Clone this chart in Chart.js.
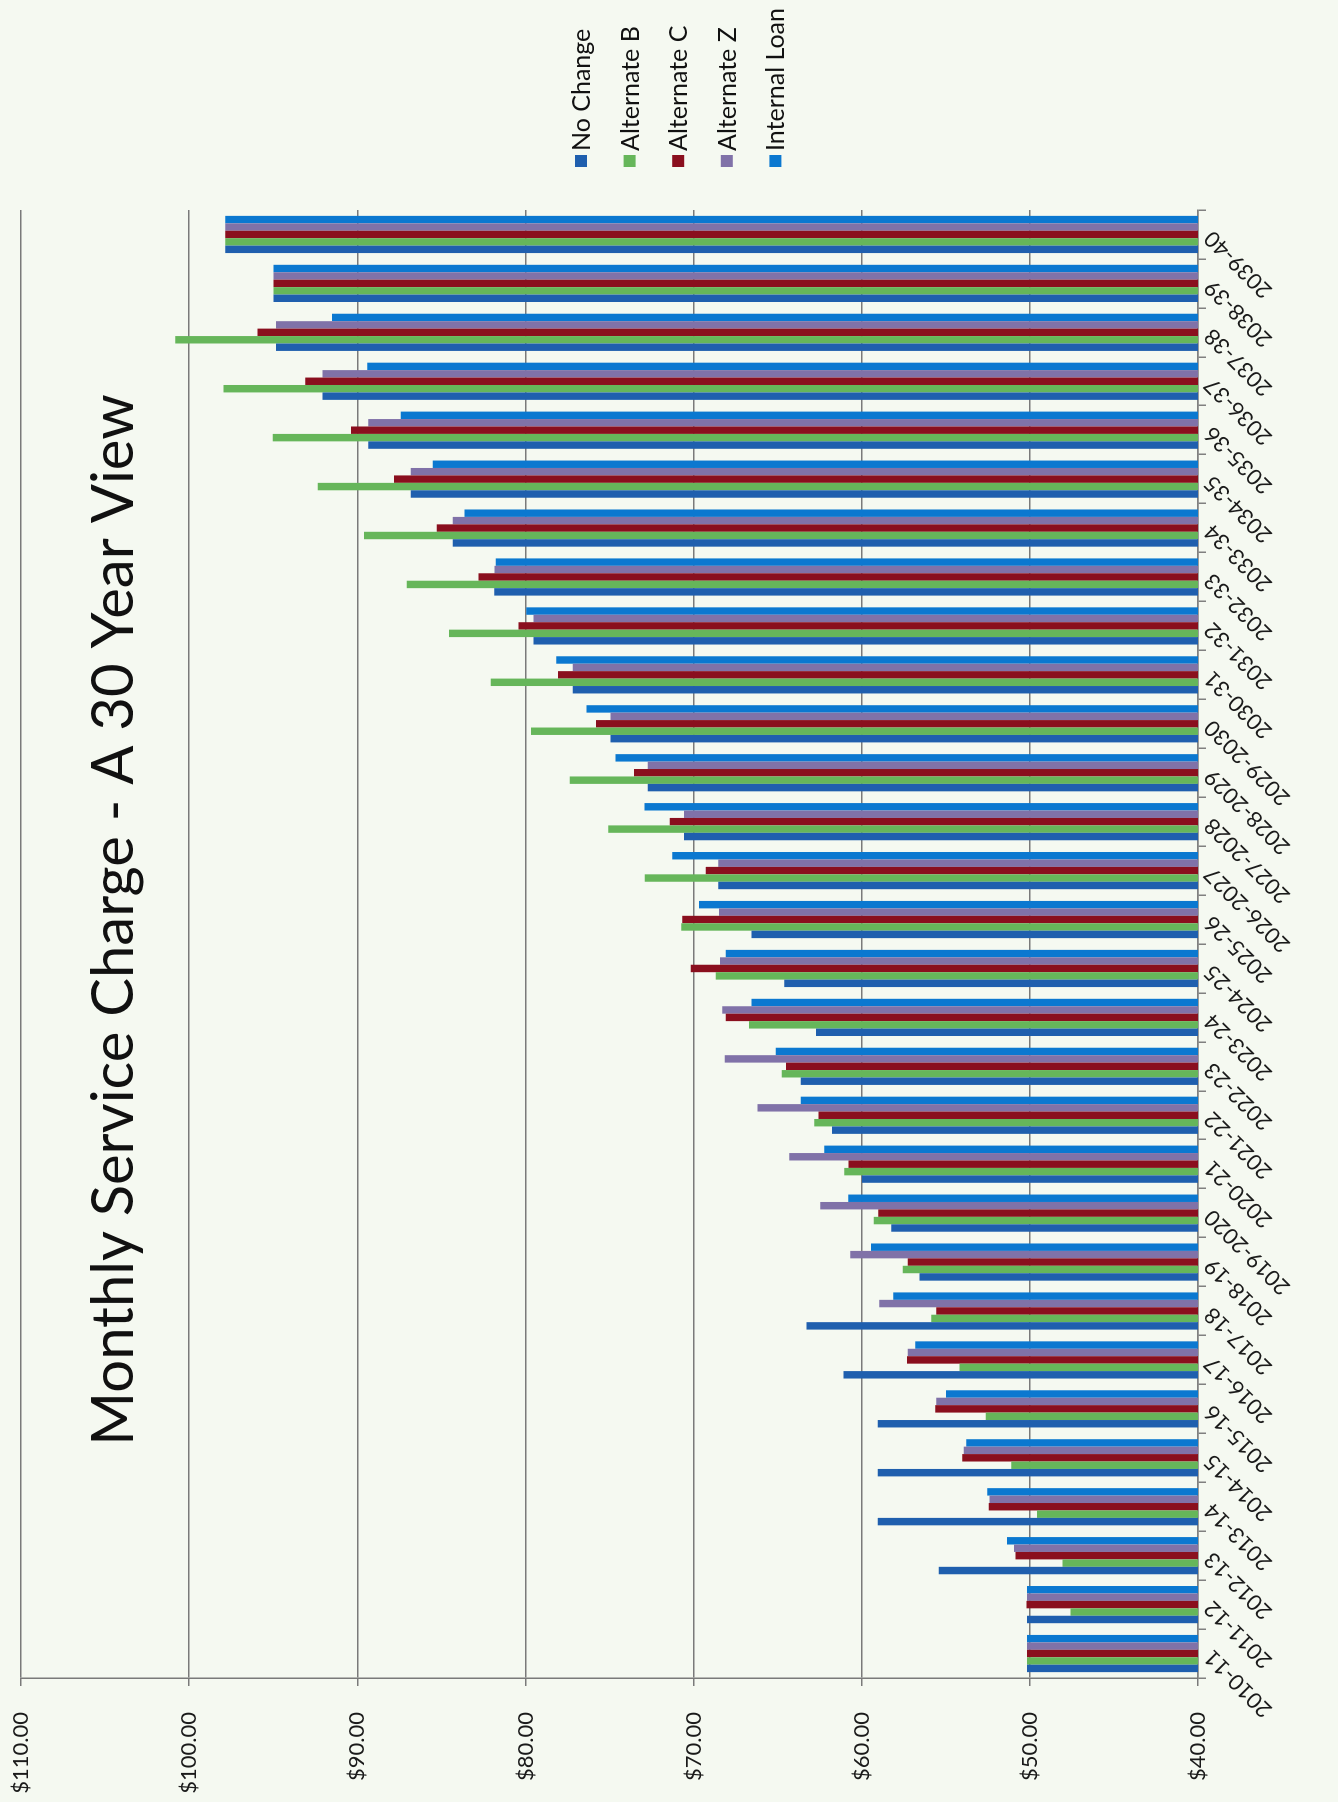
<!DOCTYPE html>
<html>
<head>
<meta charset="utf-8">
<script src="https://cdn.jsdelivr.net/npm/chart.js@4.4.1/dist/chart.umd.min.js"></script>
<style>
  html, body { margin: 0; padding: 0; background: #f5f9f1; overflow: hidden; }
  body { width: 1338px; height: 1802px; position: relative; }
  /* the chart is laid out as a column chart and turned a quarter turn counter-clockwise */
  #frame {
    position: absolute; left: 0; top: 0;
    width: 1802px; height: 1338px;
    transform-origin: 0 0;
    transform: translate(0, 1802px) rotate(-90deg);
  }
  canvas { display: block; }
</style>
</head>
<body>
<div id="frame"><canvas id="chart" width="1802" height="1338"></canvas></div>
<script>
const chartTitle = 'Monthly Service Charge - A 30 Year View';

const years = [
  '2010-11', '2011-12', '2012-13', '2013-14', '2014-15', '2015-16', '2016-17', '2017-18',
  '2018-19', '2019-2020', '2020-21', '2021-22', '2022-23', '2023-24', '2024-25', '2025-26',
  '2026-2027', '2027-2028', '2028-2029', '2029-2030', '2030-31', '2031-32', '2032-33',
  '2033-34', '2034-35', '2035-36', '2036-37', '2037-38', '2038-39', '2039-40'
];

const noChange = [
  50.17, 50.17, 55.42, 59.05, 59.05, 59.05, 61.08, 63.28, 56.57, 58.25,
  59.98, 61.77, 63.62, 62.72, 64.61, 66.56, 68.53, 70.57, 72.72, 74.94,
  77.19, 79.52, 81.85, 84.32, 86.82, 89.35, 92.07, 94.83, 94.98, 97.85
];
const alternateB = [
  50.17, 47.59, 48.06, 49.58, 51.10, 52.63, 54.18, 55.87, 57.56, 59.29,
  61.04, 62.82, 64.75, 66.70, 68.68, 70.73, 72.90, 75.08, 77.37, 79.67,
  82.06, 84.54, 87.06, 89.60, 92.35, 95.03, 97.96, 100.83, 94.98, 97.85
];
const alternateC = [
  50.17, 50.20, 50.86, 52.44, 54.02, 55.63, 57.30, 55.57, 57.26, 59.01,
  60.78, 62.57, 64.51, 68.09, 70.17, 70.68, 69.28, 71.41, 73.55, 75.80,
  78.06, 80.41, 82.79, 85.27, 87.81, 90.37, 93.10, 95.93, 94.98, 97.85
];
const alternateZ = [
  50.17, 50.17, 50.95, 52.40, 53.93, 55.57, 57.26, 58.95, 60.68, 62.47,
  64.31, 66.20, 68.15, 68.29, 68.43, 68.49, 68.53, 70.57, 72.72, 74.94,
  77.19, 79.52, 81.84, 84.32, 86.82, 89.35, 92.07, 94.83, 94.98, 97.85
];
const internalLoan = [
  50.17, 50.17, 51.36, 52.53, 53.78, 54.98, 56.81, 58.12, 59.45, 60.80,
  62.23, 63.62, 65.11, 66.56, 68.09, 69.68, 71.27, 72.92, 74.64, 76.37,
  78.16, 79.95, 81.76, 83.62, 85.51, 87.42, 89.41, 91.50, 94.98, 97.85
];

const valueTicks = [40, 50, 60, 70, 80, 90, 100, 110];
const valueTickLabels = ['$40.00', '$50.00', '$60.00', '$70.00', '$80.00', '$90.00', '$100.00', '$110.00'];

const seriesNames = ['No Change', 'Alternate B', 'Alternate C', 'Alternate Z', 'Internal Loan'];
const seriesColors = ['#1f5fae', '#66b65a', '#8a0f1e', '#8072a8', '#0b78d0'];
const seriesValues = [noChange, alternateB, alternateC, alternateZ, internalLoan];

const FONT = 'Lato, "Open Sans", "DejaVu Sans", sans-serif';

// title drawn over the upper part of the plot
const titlePlugin = {
  id: 'overlayTitle',
  afterDraw(chart) {
    const ctx = chart.ctx;
    ctx.save();
    ctx.font = '58px ' + FONT;
    ctx.fillStyle = '#111';
    ctx.textAlign = 'center';
    ctx.textBaseline = 'alphabetic';
    ctx.fillText(chartTitle, 882, 133);
    ctx.restore();
  }
};

// vertical legend to the right of the plot
const sideLegend = {
  id: 'sideLegend',
  afterDraw(chart) {
    const ctx = chart.ctx;
    const x = chart.chartArea.right + 49;
    ctx.save();
    ctx.font = '25px ' + FONT;
    ctx.textBaseline = 'middle';
    ctx.textAlign = 'left';
    chart.data.datasets.forEach((ds, i) => {
      const y = 581 + i * 48.6;
      ctx.fillStyle = ds.backgroundColor;
      ctx.fillRect(x - 6, y - 6, 12, 12);
      ctx.fillStyle = '#111';
      ctx.fillText(ds.label, x + 10, y + 1);
    });
    ctx.restore();
  }
};

new Chart(document.getElementById('chart'), {
  type: 'bar',
  data: {
    labels: years,
    datasets: seriesNames.map((name, i) => ({
      label: name,
      data: seriesValues[i],
      backgroundColor: seriesColors[i],
      borderWidth: 0,
      categoryPercentage: 0.76,
      barPercentage: 1.0
    }))
  },
  options: {
    responsive: false,
    animation: false,
    layout: { padding: { left: 0, right: 210, top: 21, bottom: 0 } },
    plugins: {
      legend: { display: false },
      title: { display: false },
      tooltip: { enabled: false }
    },
    scales: {
      x: {
        grid: { drawOnChartArea: false, color: '#808080', tickLength: 8, offset: true, lineWidth: 1.5 },
        border: { color: '#808080', width: 1.5 },
        ticks: {
          autoSkip: false, minRotation: 45, maxRotation: 45,
          font: { family: FONT, size: 22 }, color: '#1a1a1a', padding: -7
        },
        afterFit(scale) { scale.height = 140; }
      },
      y: {
        min: 40, max: 110,
        afterBuildTicks(scale) { scale.ticks = valueTicks.map(v => ({ value: v })); },
        ticks: {
          callback: (v) => valueTickLabels[valueTicks.indexOf(v)],
          font: { family: FONT, size: 22 }, color: '#1a1a1a', padding: 26
        },
        grid: { color: '#7a7a7a', lineWidth: 1.5, tickLength: 8 },
        border: { color: '#7a7a7a', width: 1.5 },
        afterFit(scale) {
          scale.width = 124;
          scale.paddingTop = 0;
          scale.paddingBottom = 0;
        }
      }
    }
  },
  plugins: [titlePlugin, sideLegend]
});
</script>
</body>
</html>
